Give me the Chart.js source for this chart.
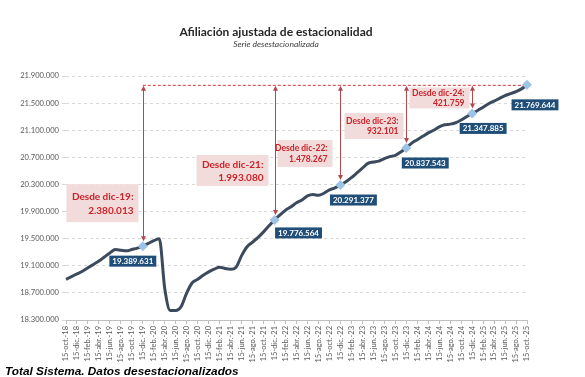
<!DOCTYPE html>
<html><head><meta charset="utf-8">
<script src="https://cdn.jsdelivr.net/npm/chart.js@4/dist/chart.umd.min.js"></script>
<style>html,body{margin:0;padding:0;background:#fff}</style>
</head><body>
<canvas id="c" width="585" height="377"></canvas>
<script>
const chartTitle = 'Afiliación ajustada de estacionalidad';
const chartSubtitle = 'Serie desestacionalizada';
const footNote = 'Total Sistema. Datos desestacionalizados';

const categories = [
 '15-oct.-18','15-nov.-18','15-dic.-18',
 '15-ene.-19','15-feb.-19','15-mar.-19','15-abr.-19','15-may.-19','15-jun.-19','15-jul.-19','15-ago.-19','15-sep.-19','15-oct.-19','15-nov.-19','15-dic.-19',
 '15-ene.-20','15-feb.-20','15-mar.-20','15-abr.-20','15-may.-20','15-jun.-20','15-jul.-20','15-ago.-20','15-sep.-20','15-oct.-20','15-nov.-20','15-dic.-20',
 '15-ene.-21','15-feb.-21','15-mar.-21','15-abr.-21','15-may.-21','15-jun.-21','15-jul.-21','15-ago.-21','15-sep.-21','15-oct.-21','15-nov.-21','15-dic.-21',
 '15-ene.-22','15-feb.-22','15-mar.-22','15-abr.-22','15-may.-22','15-jun.-22','15-jul.-22','15-ago.-22','15-sep.-22','15-oct.-22','15-nov.-22','15-dic.-22',
 '15-ene.-23','15-feb.-23','15-mar.-23','15-abr.-23','15-may.-23','15-jun.-23','15-jul.-23','15-ago.-23','15-sep.-23','15-oct.-23','15-nov.-23','15-dic.-23',
 '15-ene.-24','15-feb.-24','15-mar.-24','15-abr.-24','15-may.-24','15-jun.-24','15-jul.-24','15-ago.-24','15-sep.-24','15-oct.-24','15-nov.-24','15-dic.-24',
 '15-ene.-25','15-feb.-25','15-mar.-25','15-abr.-25','15-may.-25','15-jun.-25','15-jul.-25','15-ago.-25','15-sep.-25','15-oct.-25'
];

const afiliados = [
 18900000,18940000,18980000,
 19020000,19070000,19120000,19170000,19230000,19290000,19340000,19330000,19320000,19340000,19360000,19389631,
 19430000,19470000,19500000,18760000,18440000,18440000,18500000,18700000,18850000,18900000,18960000,19010000,
 19050000,19080000,19060000,19050000,19080000,19250000,19380000,19450000,19520000,19600000,19690000,19776564,
 19850000,19920000,19970000,20030000,20070000,20130000,20150000,20140000,20170000,20220000,20250000,20291377,
 20340000,20400000,20470000,20540000,20610000,20630000,20645000,20680000,20710000,20730000,20780000,20837543,
 20910000,20960000,21010000,21060000,21100000,21150000,21180000,21190000,21210000,21250000,21300000,21347885,
 21390000,21440000,21490000,21530000,21570000,21610000,21640000,21670000,21710000,21769644
];

// reference points (December of each year) and the labels for the gains
const markedIndices = [14, 38, 50, 62, 74, 84];
const gainLabels = ['Desde dic-19:', 'Desde dic-21:', 'Desde dic-22:', 'Desde dic-23:', 'Desde dic-24:'];

const yTicks = [18300000, 18700000, 19100000, 19500000, 19900000, 20300000, 20700000, 21100000, 21500000, 21900000];

function fmt(n){ return String(n).replace(/\B(?=(\d{3})+(?!\d))/g, '.'); }

// styling of annotation boxes (pixel offsets relative to the marked point)
const gainBoxStyle = [
 {dx:-5, dy:-62, w:72, h:38, font:10, l1:13, l2:27},
 {dx:-7, dy:-65, w:72, h:31, font:10, l1:10, l2:23},
 {dx:-8, dy:-45, w:55, h:27, font:8.5, l1:8, l2:19},
 {dx:-3, dy:-35, w:59, h:26, font:8.5, l1:8, l2:18},
 {dx:-3, dy:-26, w:60, h:21, font:8.5, l1:6, l2:16}
];
const valueBoxOffset = [[-10,15],[24,13],[13,15],[19,15],[11,15],[8,20]];

function arrowHead(ctx, x, y, dir){
  ctx.beginPath();
  ctx.moveTo(x, y);
  ctx.lineTo(x-2.5, y - dir*5);
  ctx.lineTo(x+2.5, y - dir*5);
  ctx.closePath();
  ctx.fill();
}

const annotPlugin = {
  id: 'annot',
  beforeDatasetsDraw(chart){
    const {ctx, scales:{x, y}} = chart;
    const last = afiliados.length - 1;
    const yTop = y.getPixelForValue(afiliados[last]);
    ctx.save();
    ctx.strokeStyle = '#d9363e'; ctx.lineWidth = 1; ctx.setLineDash([3,2]);
    ctx.beginPath();
    ctx.moveTo(x.getPixelForValue(markedIndices[0]), yTop + 0.5);
    ctx.lineTo(x.getPixelForValue(last), yTop + 0.5);
    ctx.stroke();
    ctx.setLineDash([]);
    markedIndices.slice(0, -1).forEach((idx, k) => {
      const px = Math.round(x.getPixelForValue(idx)) + 0.5;
      const py = y.getPixelForValue(afiliados[idx]);
      const y0 = yTop + 1, y1 = py - 5;
      ctx.strokeStyle = '#b4474b'; ctx.fillStyle = '#b4474b'; ctx.lineWidth = 1;
      ctx.beginPath(); ctx.moveTo(px, y0 + 3); ctx.lineTo(px, y1 - 3); ctx.stroke();
      arrowHead(ctx, px, y0, -1);
      arrowHead(ctx, px, y1, 1);
      const s = gainBoxStyle[k];
      const right = px + s.dx, top = py + s.dy;
      ctx.fillStyle = '#f2dcdb';
      ctx.fillRect(right - s.w, top, s.w, s.h);
      ctx.fillStyle = '#cc2229';
      ctx.font = 'bold ' + s.font + 'px Lato, "Liberation Sans", sans-serif';
      ctx.textAlign = 'right'; ctx.textBaseline = 'middle';
      ctx.fillText(gainLabels[k], right - 5, top + s.l1);
      ctx.fillText(fmt(afiliados[last] - afiliados[idx]), right - 5, top + s.l2);
    });
    ctx.restore();
  },
  afterDatasetsDraw(chart){
    const {ctx, scales:{x, y}} = chart;
    ctx.save();
    ctx.font = 'bold 8px Lato, "Liberation Sans", sans-serif';
    ctx.textAlign = 'center'; ctx.textBaseline = 'middle';
    markedIndices.forEach((idx, k) => {
      const px = x.getPixelForValue(idx), py = y.getPixelForValue(afiliados[idx]);
      const cx = px + valueBoxOffset[k][0], cy = py + valueBoxOffset[k][1];
      const t = fmt(afiliados[idx]);
      const w = ctx.measureText(t).width + 6, h = 11;
      ctx.fillStyle = '#1f4e79';
      ctx.fillRect(cx - w/2, cy - h/2, w, h);
      ctx.fillStyle = '#ffffff';
      ctx.fillText(t, cx, cy + 0.5);
    });
    ctx.restore();
  },
  afterDraw(chart){
    const ctx = chart.ctx;
    ctx.save();
    ctx.textAlign = 'center'; ctx.textBaseline = 'middle';
    ctx.fillStyle = '#262626';
    ctx.font = 'bold 12px Lato, "Liberation Sans", sans-serif';
    ctx.fillText(chartTitle, 276, 32);
    ctx.fillStyle = '#404040';
    ctx.font = 'italic 8.5px Lato, "Liberation Sans", sans-serif';
    ctx.fillText(chartSubtitle, 276, 44);
    ctx.textAlign = 'left';
    ctx.fillStyle = '#000000';
    ctx.font = 'bold italic 11.8px "Liberation Sans", Arial, sans-serif';
    ctx.fillText(footNote, 5, 372);
    ctx.restore();
  }
};

new Chart(document.getElementById('c'), {
  type: 'line',
  data: {
    labels: categories,
    datasets: [{
      data: afiliados,
      borderColor: '#3b4a5c',
      borderWidth: 3,
      cubicInterpolationMode: 'monotone',
      pointStyle: 'rectRot',
      pointRadius: c => markedIndices.includes(c.dataIndex) ? 5 : 0,
      pointBackgroundColor: '#9dc3e6',
      pointBorderColor: '#9dc3e6',
      pointBorderWidth: 0
    }]
  },
  options: {
    responsive: false,
    animation: false,
    layout: {padding: {top: 76, right: 58, bottom: 0, left: 0}},
    plugins: {legend: {display: false}, tooltip: {enabled: false}, title: {display: false}},
    scales: {
      x: {
        type: 'category',
        offset: false,
        afterFit: s => { s.height = 57; },
        ticks: {
          autoSkip: false, maxRotation: 90, minRotation: 90, padding: 2,
          color: '#595959',
          font: {family: 'Lato, "Liberation Sans", sans-serif', size: 7.5},
          callback: (v, i) => (i % 2 === 0 ? categories[i] : '')
        },
        grid: {
          drawOnChartArea: false, drawTicks: true, tickLength: 4,
          color: c => (c.index % 2 === 0 ? '#bfbfbf' : 'rgba(0,0,0,0)')
        },
        border: {display: true, color: '#bfbfbf'}
      },
      y: {
        min: yTicks[0], max: yTicks[yTicks.length - 1],
        afterFit: s => { s.width = 66; },
        afterBuildTicks: s => { s.ticks = yTicks.map(v => ({value: v})); },
        ticks: {
          padding: 3, color: '#595959',
          font: {family: 'Lato, "Liberation Sans", sans-serif', size: 7.6},
          callback: v => fmt(v)
        },
        grid: {color: '#d9d9d9', tickLength: 4, drawTicks: true},
        border: {display: false, dash: [3, 3]}
      }
    }
  },
  plugins: [annotPlugin]
});
</script>
</body></html>
